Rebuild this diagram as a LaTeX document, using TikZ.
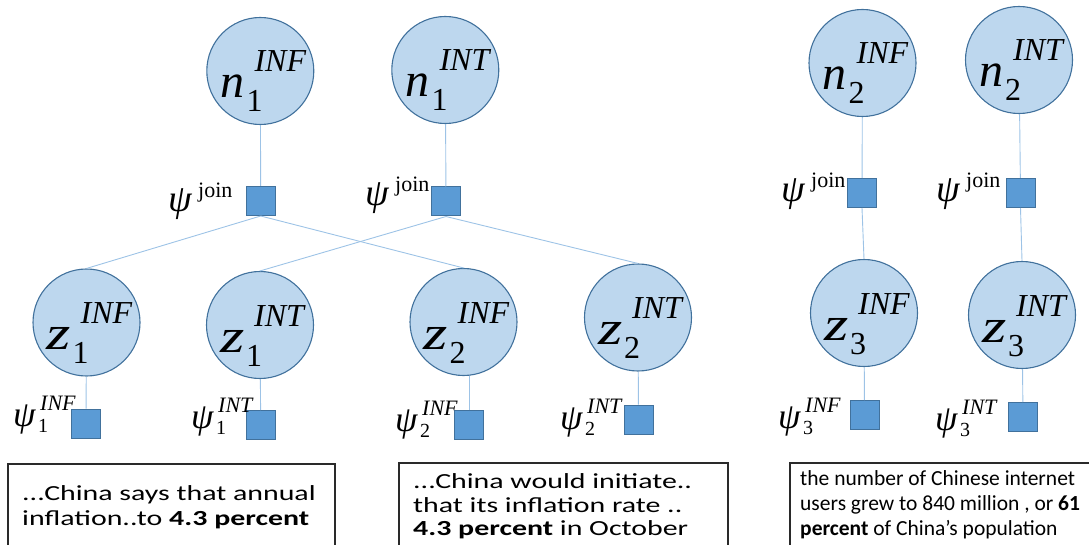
\documentclass[tikz,border=0pt]{standalone}
\usepackage{fontspec}
\setmainfont{Liberation Serif}
\newfontfamily\lsr{Liberation Serif}
\newfontfamily\lsi{Liberation Serif Italic}
\newfontfamily\boxfont[FakeStretch=1.39]{Carlito}
\newfontfamily\boxfontn{Carlito}
\usetikzlibrary{calc}
\definecolor{cfill}{HTML}{BDD7EE}
\definecolor{cdraw}{HTML}{41719C}
\definecolor{sfill}{HTML}{5B9BD5}
\definecolor{sdraw}{HTML}{41719C}
\definecolor{ecol}{HTML}{9DC3E6}
\definecolor{fcol}{HTML}{2A2A2A}
\newcommand{\BigVar}[4]{\makebox[26pt][l]{\lsi\fontsize{48}{48}\selectfont\scalebox{#1}[1]{#2}}\rlap{\raisebox{-14pt}{\lsr\fontsize{32}{32}\selectfont #3}}\kern8pt\raisebox{26pt}{\lsi\fontsize{32}{32}\selectfont #4}}
\newcommand{\SmallPsi}[2]{\makebox[25pt][l]{\lsi\fontsize{36}{36}\selectfont ψ}\rlap{\raisebox{-6pt}{\lsr\fontsize{20}{20}\selectfont #1}}\kern2pt\raisebox{16pt}{\lsi\fontsize{22}{22}\selectfont #2}}
\newcommand{\JoinPsi}{\makebox[30pt][l]{\lsi\fontsize{38}{38}\selectfont ψ}\raisebox{14pt}{\lsr\fontsize{22}{22}\selectfont join}}
\begin{document}
\begin{tikzpicture}[x=1pt,y=-1pt,
  var/.style={circle, draw=cdraw, fill=cfill, line width=1.1pt, minimum size=107pt, inner sep=0pt},
  fac/.style={rectangle, draw=sdraw, fill=sfill, line width=1pt, minimum size=29pt, inner sep=0pt},
  edge/.style={draw=ecol, line width=0.9pt},
  lab/.style={inner sep=0pt, anchor=base west},
  txt/.style={inner sep=0pt, anchor=base west, font=\boxfont\fontsize{21.5}{24}\selectfont},
  txtn/.style={inner sep=0pt, anchor=base west, font=\boxfontn\fontsize{21.5}{24}\selectfont},
  frame/.style={draw=fcol, line width=1.3pt}]
\useasboundingbox (0,0) rectangle (1089,545);
\clip (0,0) rectangle (1089,545);
% variable nodes
\node[var] (n1f) at (260.3,71) {};
\node[var] (n1t) at (445.3,70) {};
\node[var] (z1f) at (86.5,322.5) {};
\node[var] (z1t) at (260,325) {};
\node[var] (z2f) at (463.5,322) {};
\node[var] (z2t) at (638,317.5) {};
\node[var] (n2f) at (862.5,63) {};
\node[var] (n2t) at (1019,60) {};
\node[var] (z3f) at (864,313) {};
\node[var] (z3t) at (1022,315) {};
% factor nodes
\node[fac] (j1) at (260.7,201) {};
\node[fac] (j2) at (446,201.5) {};
\node[fac] (j3) at (862,193) {};
\node[fac] (j4) at (1020.5,193) {};
\node[fac] (s1f) at (86,423.5) {};
\node[fac] (s1t) at (260.7,425) {};
\node[fac] (s2f) at (469,425) {};
\node[fac] (s2t) at (638.5,419.5) {};
\node[fac] (s3f) at (864.5,415) {};
\node[fac] (s3t) at (1023,417) {};
% edges
\draw[edge] (n1f) -- (j1);
\draw[edge] (n1t) -- (j2);
\draw[edge] (j1.south) -- (z1f.north);
\draw[edge] (j1.south) -- (z2f.north);
\draw[edge] (j2.south) -- (z1t.north);
\draw[edge] (j2.south) -- (z2t.north);
\draw[edge] (z1f) -- (s1f);
\draw[edge] (z1t) -- (s1t);
\draw[edge] (s2f.north) -- (s2f.north |- z2f.south);
\draw[edge] (z2t) -- (s2t);
\draw[edge] (n2f) -- (j3);
\draw[edge] (n2t) -- (j4);
\draw[edge] (j3.south) -- (z3f.north);
\draw[edge] (j4.south) -- (z3t.north);
\draw[edge] (z3f) -- (s3f);
\draw[edge] (z3t) -- (s3t);
% variable labels
\node[lab] (ln1f) at ($(n1f)+(-40,27)$) {\BigVar{1}{n}{1}{INF}};
\node[lab] (ln1t) at ($(n1t)+(-40,27)$) {\BigVar{1}{n}{1}{INT}};
\node[lab] (lz1f) at ($(z1f)+(-40,27)$) {\BigVar{1.3}{z}{1}{INF}};
\node[lab] (lz1t) at ($(z1t)+(-40,27)$) {\BigVar{1.3}{z}{1}{INT}};
\node[lab] (lz2f) at ($(z2f)+(-40,27)$) {\BigVar{1.3}{z}{2}{INF}};
\node[lab] (lz2t) at ($(z2t)+(-40,27)$) {\BigVar{1.3}{z}{2}{INT}};
\node[lab] (ln2f) at ($(n2f)+(-40,27)$) {\BigVar{1}{n}{2}{INF}};
\node[lab] (ln2t) at ($(n2t)+(-40,27)$) {\BigVar{1}{n}{2}{INT}};
\node[lab] (lz3f) at ($(z3f)+(-40,27)$) {\BigVar{1.3}{z}{3}{INF}};
\node[lab] (lz3t) at ($(z3t)+(-40,27)$) {\BigVar{1.3}{z}{3}{INT}};
% factor labels
\node[lab] (lj1) at (168,212) {\JoinPsi};
\node[lab] (lj2) at (365,206) {\JoinPsi};
\node[lab] (lj3) at (781,202) {\JoinPsi};
\node[lab] (lj4) at (936,202) {\JoinPsi};
\node[lab] (ls1f) at (13,426) {\SmallPsi{1}{INF}};
\node[lab] (ls1t) at (191,428) {\SmallPsi{1}{INT}};
\node[lab] (ls2f) at (395,431) {\SmallPsi{2}{INF}};
\node[lab] (ls2t) at (560,429) {\SmallPsi{2}{INT}};
\node[lab] (ls3f) at (778,428) {\SmallPsi{3}{INF}};
\node[lab] (ls3t) at (935,430) {\SmallPsi{3}{INT}};
% text boxes
\draw[frame] (8,464) rectangle (335,560);
\draw[frame] (399,463) rectangle (728,560);
\draw[frame] (790,463) rectangle (1100,560);
\node[txt] (b1a) at (22,500) {...China says that annual};
\node[txt] (b1b) at (22,525) {inflation..to \textbf{4.3 percent}};
\node[txt] (b2a) at (413,488) {...China would initiate..};
\node[txt] (b2b) at (413,512) {that its inflation rate ..};
\node[txt] (b2c) at (413,535.5) {\textbf{4.3 percent} in October};
\node[txtn] (b3a) at (800,485) {the number of Chinese internet};
\node[txtn] (b3b) at (800,510) {users grew to 840 million , or \textbf{61}};
\node[txtn] (b3c) at (800,535) {\textbf{percent} of China’s population};
\end{tikzpicture}
\end{document}
